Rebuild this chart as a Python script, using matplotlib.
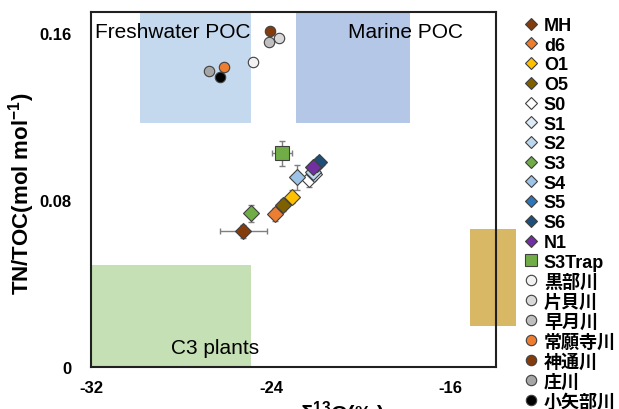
import numpy as np
import matplotlib
matplotlib.use("Agg")
from matplotlib import pyplot as plt
from matplotlib.patches import Rectangle
from matplotlib.lines import Line2D

plt.rcParams['font.family'] = ['Liberation Sans', 'Noto Sans CJK JP', 'DejaVu Sans']
plt.rcParams['axes.unicode_minus'] = False
plt.rcParams['mathtext.fontset'] = 'custom'
plt.rcParams['mathtext.rm'] = 'Liberation Sans:bold'
plt.rcParams['mathtext.bf'] = 'Liberation Sans:bold'
plt.rcParams['mathtext.default'] = 'bf'

# sediment samples (diamonds) + trap (square)
site_names = ['MH', 'd6', 'O1', 'O5', 'S0', 'S1', 'S2', 'S3', 'S4', 'S5', 'S6', 'N1', 'S3Trap']
site_d13c = [-25.23, -23.81, -23.05, -23.47, -22.30, -22.09, -22.15, -24.89, -22.86, -21.97, -21.85, -22.12, -23.51]
site_tn = [0.065, 0.0731, 0.0816, 0.0776, 0.0900, 0.0924, 0.0935, 0.0736, 0.0908, 0.0972, 0.0980, 0.0956, 0.1025]
site_xerr = [1.05, 0.15, 0.15, 0.15, 0.15, 0.15, 0.15, 0.1, 0.2, 0.15, 0.15, 0.15, 0.45]
site_yerr = [0.003, 0.003, 0.003, 0.003, 0.004, 0.002, 0.002, 0.004, 0.006, 0.002, 0.002, 0.002, 0.006]
site_colors = ['#843c0c', '#ed7d31', '#ffc000', '#7f6000', '#ffffff', '#deebf7', '#bdd7ee',
               '#70ad47', '#9dc3e6', '#2e75b6', '#1f4e79', '#7030a0', '#70ad47']

# river POC (circles)
river_names = ['黒部川', '片貝川', '早月川', '常願寺川', '神通川', '庄川', '小矢部川']
river_d13c = [-24.81, -23.66, -24.10, -26.07, -24.04, -26.76, -26.27]
river_tn = [0.1459, 0.1574, 0.1558, 0.1435, 0.1611, 0.1416, 0.1389]
river_colors = ['#f2f2f2', '#d9d9d9', '#bfbfbf', '#ed7d31', '#843c0c', '#a6a6a6', '#000000']

# end-member boxes: (x0, x1, y0, y1)
fresh_box = (-29.8, -24.9, 0.117, 0.17)
marine_box = (-22.9, -17.8, 0.117, 0.17)
c3_box = (-32.0, -24.9, 0.0, 0.049)
gold_box = (-15.15, -13.1, 0.0195, 0.066)

fig = plt.figure(figsize=(6.19, 4.10), dpi=100)
ax = fig.add_axes([0.147, 0.1024, 0.654, 0.8656])

for (x0, x1, y0, y1), c in [(fresh_box, '#c5d9ee'), (marine_box, '#b4c7e7'),
                            (c3_box, '#c5e0b4'), (gold_box, '#d8b865')]:
    ax.add_patch(Rectangle((x0, y0), x1 - x0, y1 - y0, facecolor=c, edgecolor='none',
                           zorder=0.5, clip_on=False))

ax.text(-31.8, 0.1605, 'Freshwater POC', fontsize=15, va='center', ha='left')
ax.text(-18.0, 0.1605, 'Marine POC', fontsize=15, va='center', ha='center')
ax.text(-26.5, 0.0095, 'C3 plants', fontsize=15, va='center', ha='center')

handles = []
for i, name in enumerate(site_names):
    mk = 's' if name == 'S3Trap' else 'D'
    ms = 10 if name == 'S3Trap' else 8
    ax.errorbar(site_d13c[i], site_tn[i], xerr=site_xerr[i], yerr=site_yerr[i],
                fmt='none', ecolor='#7f7f7f', elinewidth=1, capsize=2.5, zorder=2)
    ax.plot(site_d13c[i], site_tn[i], marker=mk, ms=ms, color=site_colors[i],
            mec='#404040', mew=0.8, ls='none', zorder=3)
    handles.append(Line2D([], [], marker=mk, ms=6.5 if mk == 'D' else 8, color=site_colors[i],
                          mec='#404040', mew=0.8, ls='none', label=name))

for i, name in enumerate(river_names):
    ax.plot(river_d13c[i], river_tn[i], marker='o', ms=7.5, color=river_colors[i],
            mec='#404040', mew=0.8, ls='none', zorder=3)
    handles.append(Line2D([], [], marker='o', ms=7.5, color=river_colors[i],
                          mec='#404040', mew=0.8, ls='none', label=name))

ax.set_xlim(-32, -14)
ax.set_ylim(0, 0.17)
ax.set_xticks([-32, -24, -16])
ax.set_yticks([0, 0.08, 0.16])
ax.set_yticklabels(['0', '0.08', '0.16'])
ax.tick_params(length=0, labelsize=12)
ax.tick_params(axis='y', pad=14)
ax.tick_params(axis='x', pad=9)
for lab in ax.get_xticklabels() + ax.get_yticklabels():
    lab.set_fontweight('bold')
for sp in ax.spines.values():
    sp.set_linewidth(1.5)
    sp.set_color('#202020')

ax.set_ylabel('TN/TOC(mol mol$^{-1}$)', fontsize=16, fontweight='bold')
ax.yaxis.set_label_coords(-0.133, 0.49)
ax.set_xlabel('δ$^{13}$C(‰)', fontsize=16, fontweight='bold')
ax.xaxis.set_label_coords(0.62, -0.088)

leg = fig.legend(handles=handles, loc='upper left', bbox_to_anchor=(0.835, 0.978),
                 frameon=False, prop={'weight': 'bold', 'size': 13},
                 handlelength=0.6, handletextpad=0.4, labelspacing=0.15, borderpad=0)

fig.savefig('out.png', dpi=100)
